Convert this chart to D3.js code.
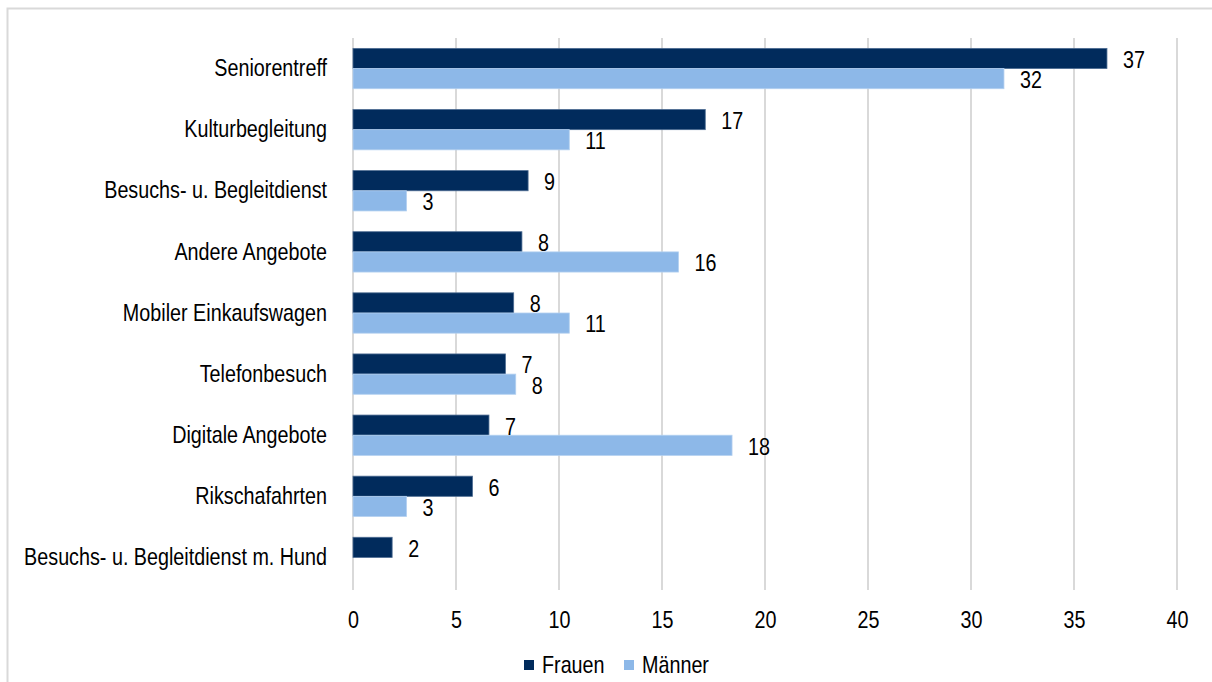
<!DOCTYPE html>
<html>
<head>
<meta charset="utf-8">
<script src="https://cdn.jsdelivr.net/npm/d3@7"></script>
<style>
  html, body { margin: 0; padding: 0; background: #fff; }
  svg { display: block; }
  text { font-family: "Liberation Sans Narrow", "Arial Narrow", "Liberation Sans", Arial, sans-serif; fill: #000; }
</style>
</head>
<body>
<svg id="chart" width="1212" height="682"></svg>
<script>
// Angebote, sortiert wie im Diagramm (oben nach unten)
const categories = [
  "Seniorentreff",
  "Kulturbegleitung",
  "Besuchs- u. Begleitdienst",
  "Andere Angebote",
  "Mobiler Einkaufswagen",
  "Telefonbesuch",
  "Digitale Angebote",
  "Rikschafahrten",
  "Besuchs- u. Begleitdienst m. Hund"
];
const series = ["Frauen", "Männer"];
// Anteile in Prozent
const frauen = [36.6, 17.1, 8.5, 8.2, 7.8, 7.4, 6.6, 5.8, 1.9];
const maenner = [31.6, 10.5, 2.6, 15.8, 10.5, 7.9, 18.4, 2.6, null];
const xTicks = [0, 5, 10, 15, 20, 25, 30, 35, 40];

const colors = { "Frauen": "#012b5c", "Männer": "#8db8e8" };

const FONT_SIZE = 24;
const SQUEEZE = 0.823; // schmale Schrift nachbilden

// Text horizontal stauchen, Ankerpunkt bleibt erhalten
function narrow(sel) {
  sel.each(function () {
    const t = d3.select(this);
    const tx = +t.attr("x") || 0;
    const ty = +t.attr("y") || 0;
    t.attr("x", 0).attr("y", 0)
      .attr("font-size", FONT_SIZE)
      .style("font-family", null)
      .attr("transform", `translate(${tx},${ty}) scale(${SQUEEZE},1)`);
  });
}

const svg = d3.select("#chart");
const W = 1212, H = 682;
const margin = { top: 38, right: 35, bottom: 94, left: 353 };
const plotW = W - margin.left - margin.right;
const plotH = H - margin.top - margin.bottom;

// Rahmen
svg.append("rect")
  .attr("x", 7.5).attr("y", 8.5)
  .attr("width", W + 10).attr("height", H + 10)
  .attr("fill", "none").attr("stroke", "#d9d9d9").attr("stroke-width", 2);

const g = svg.append("g").attr("transform", `translate(${margin.left},${margin.top})`);

const x = d3.scaleLinear().domain([0, 40]).range([0, plotW]);
const y = d3.scaleBand().domain(categories).range([0, plotH]).paddingInner(0.34).paddingOuter(0.17);
const ySub = d3.scaleBand().domain(series).range([0, y.bandwidth()]);

// Gitterlinien
g.append("g")
  .selectAll("line")
  .data(xTicks)
  .join("line")
  .attr("x1", d => x(d)).attr("x2", d => x(d))
  .attr("y1", 0).attr("y2", plotH + 2)
  .attr("stroke", "#d9d9d9").attr("stroke-width", 2);

// x-Achse
const xAxis = d3.axisBottom(x).tickValues(xTicks).tickSize(0).tickPadding(23);
g.append("g")
  .attr("transform", `translate(0,${plotH})`)
  .call(xAxis)
  .call(s => s.select(".domain").remove())
  .call(s => s.selectAll("text").call(narrow));

// Kategorienbeschriftung
const yAxis = d3.axisLeft(y).tickSize(0).tickPadding(26);
g.append("g")
  .call(yAxis)
  .call(s => s.select(".domain").remove())
  .call(s => s.selectAll("text").call(narrow));

const rows = categories.map((c, i) => ({
  cat: c,
  vals: [
    { key: "Frauen", value: frauen[i] },
    { key: "Männer", value: maenner[i] }
  ].filter(v => v.value != null)
}));

const fmt = d3.format(".0f");

const groups = g.selectAll(".grp")
  .data(rows)
  .join("g")
  .attr("class", "grp")
  .attr("transform", d => `translate(0,${y(d.cat)})`);

groups.selectAll("rect")
  .data(d => d.vals)
  .join("rect")
  .attr("x", x(0))
  .attr("y", d => ySub(d.key))
  .attr("width", d => x(d.value) - x(0))
  .attr("height", ySub.bandwidth())
  .attr("fill", d => colors[d.key])
  .attr("stroke", d => d.key === "Frauen" ? "#4d6c92" : "#b3d0f0")
  .attr("stroke-width", 0.8);

groups.selectAll("text.val")
  .data(d => d.vals)
  .join("text")
  .attr("class", "val")
  .attr("x", d => x(d.value) + 16)
  .attr("y", d => ySub(d.key) + ySub.bandwidth() / 2 + 1)
  .attr("dy", "0.35em")
  .text(d => fmt(d.value))
  .call(narrow);

// Legende
const legend = svg.append("g").attr("transform", "translate(524,665)");
const items = legend.selectAll("g")
  .data(series)
  .join("g")
  .attr("transform", (d, i) => `translate(${i * 100},0)`);
items.append("rect")
  .attr("x", 0).attr("y", -5)
  .attr("width", 10).attr("height", 10)
  .attr("fill", d => colors[d]);
items.append("text")
  .attr("x", 18).attr("y", 0).attr("dy", "0.35em")
  .text(d => d)
  .call(narrow);
</script>
</body>
</html>
